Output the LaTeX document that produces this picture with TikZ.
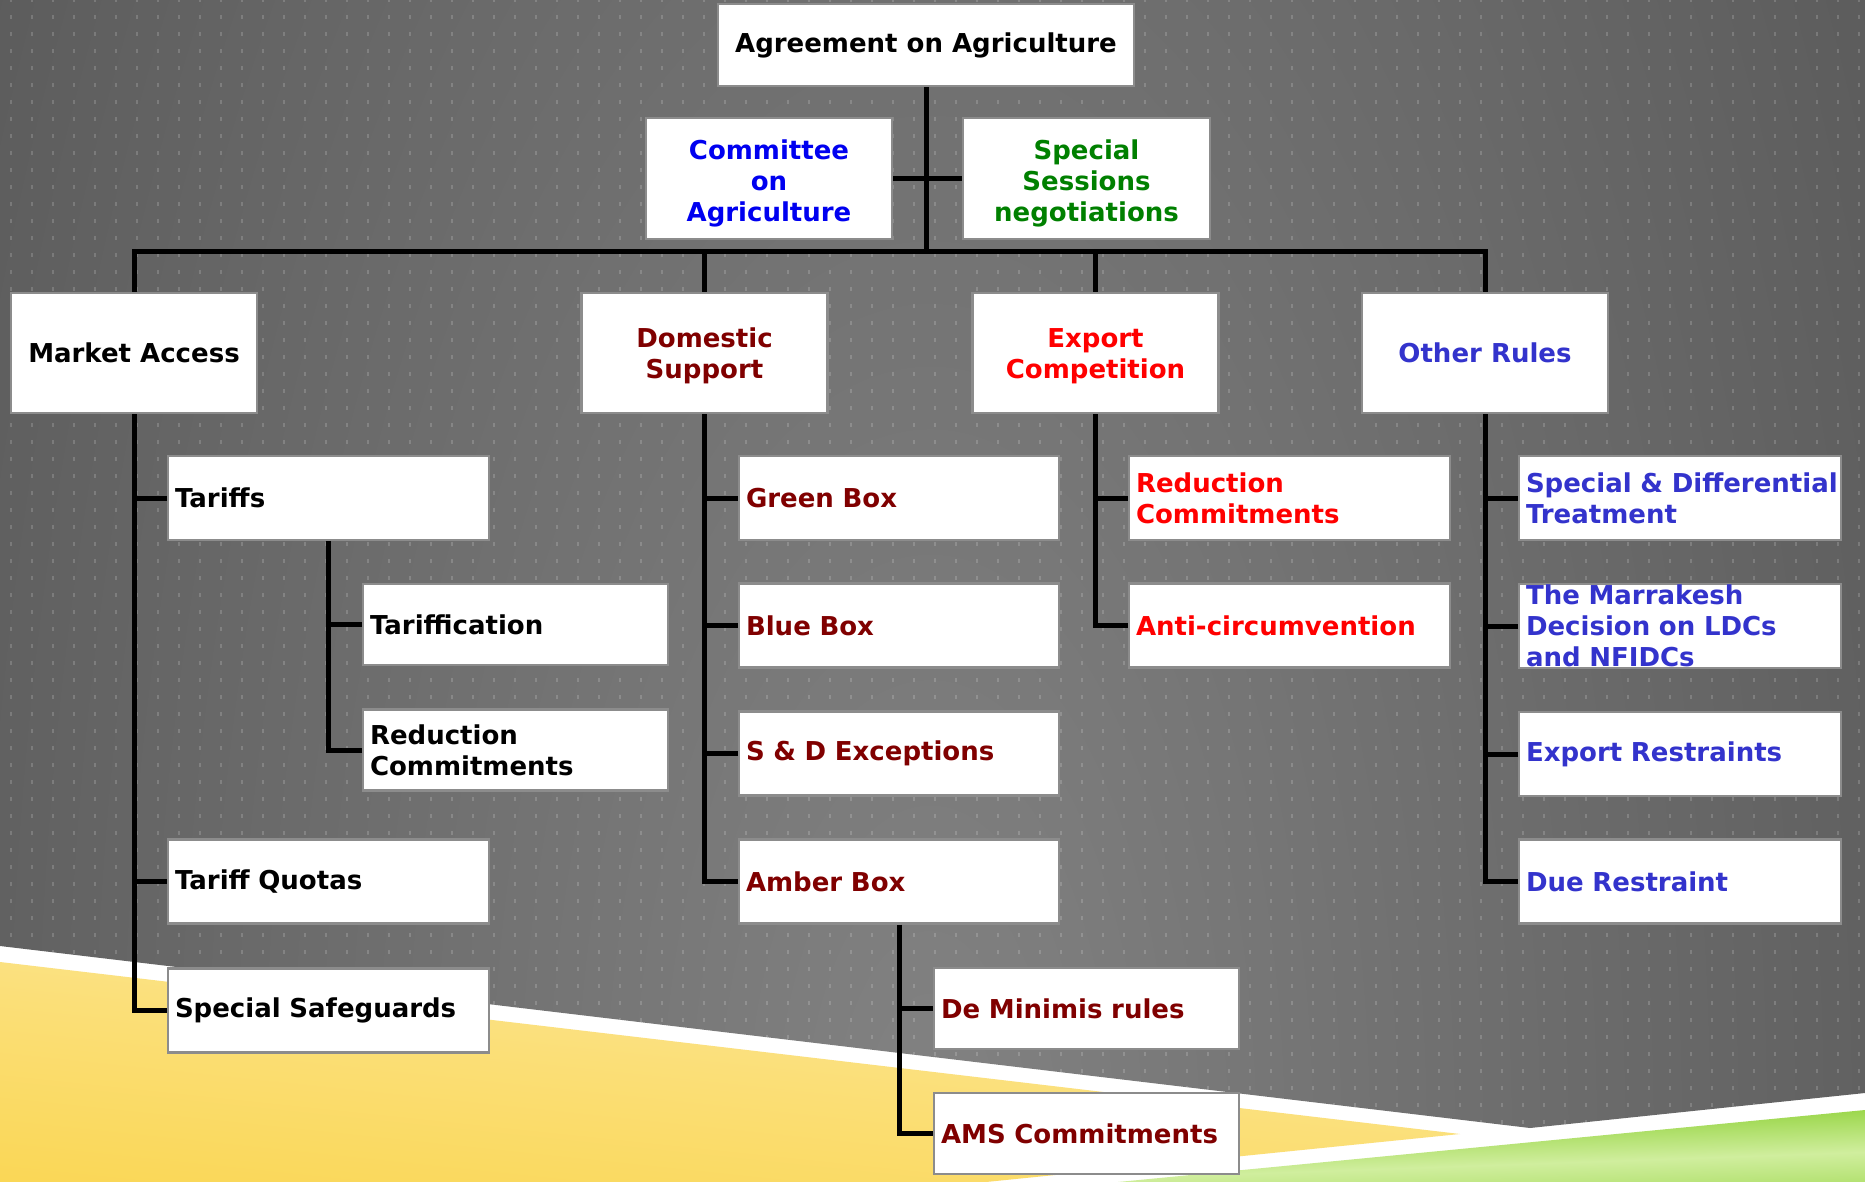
\documentclass[tikz,border=0pt]{standalone}
\usepackage{fontspec}
\setmainfont{DejaVu Sans}
\usetikzlibrary{patterns}
\definecolor{bgc}{HTML}{828282}
\definecolor{bge}{HTML}{3F3F3F}
\definecolor{yA}{HTML}{F9D03A}
\definecolor{yB}{HTML}{FBDF78}
\definecolor{yC}{HTML}{FDE9A2}
\definecolor{gA}{HTML}{7CC620}
\definecolor{gB}{HTML}{D0EE9E}
\definecolor{gC}{HTML}{8ACF30}
\definecolor{boxborder}{HTML}{8C8C8C}
\definecolor{cblue}{HTML}{0000F0}
\definecolor{cgreen}{HTML}{008000}
\definecolor{cdred}{HTML}{800000}
\definecolor{cred}{HTML}{FF0000}
\definecolor{cpurp}{HTML}{3333CC}
\newcommand{\dnA}{\rule{0pt}{30pt}}
\newcommand{\dnB}{\rule{0pt}{25pt}}
\pgfdeclarepatternformonly{bgdots}{\pgfqpoint{-1pt}{-1pt}}{\pgfqpoint{22pt}{18pt}}{\pgfqpoint{21pt}{17pt}}{\pgfpathrectangle{\pgfqpoint{9.5pt}{7pt}}{\pgfqpoint{2pt}{3.5pt}}\pgfusepath{fill}}
\pgfdeclareradialshading{bgrad}{\pgfpoint{0bp}{0bp}}{color(0bp)=(bgc); color(50bp)=(bge); color(75bp)=(bge)}
\pgfdeclareverticalshading{yelsh}{100bp}{color(0bp)=(yA); color(50bp)=(yB); color(76bp)=(yC); color(92bp)=(yA); color(100bp)=(yA)}
\pgfdeclareverticalshading{grnsh}{100bp}{color(0bp)=(gC); color(40bp)=(gB); color(70bp)=(gC); color(100bp)=(gA)}
\begin{document}
\begin{tikzpicture}[x=1pt,y=-1pt,
  box/.style={draw=boxborder, line width=2.5pt, fill=white, inner ysep=0pt, inner xsep=7pt,
    font=\fontsize{26pt}{31pt}\selectfont\bfseries},
  headbox/.style={box, align=center, minimum width=246pt, minimum height=120pt},
  leafA/.style={box, align=left, minimum width=321pt, text width=307pt, minimum height=84pt},
  leafB/.style={box, align=left, minimum width=305pt, text width=291pt, minimum height=81pt},
  conn/.style={line width=5pt, black, line join=miter}]
\useasboundingbox (0,0) rectangle (1865,1182);
% background
\fill[white] (0,0) rectangle (1865,1182);
\begin{scope}
  \clip (0,0) -- (1865,0) -- (1865,1093) -- (1530,1128) -- (0,946) -- cycle;
  \shade[shading=bgrad] (-20,-950) rectangle (1880,3250);
  \fill[pattern=bgdots, pattern color=white, fill opacity=0.17] (0,0) rectangle (1865,1182);
\end{scope}
\shade[shading=yelsh, shading angle=-6] (0,962) -- (1460,1134) -- (986,1182) -- (0,1182) -- cycle;
\shade[shading=grnsh, shading angle=2] (1118,1182) -- (1865,1110) -- (1865,1182) -- cycle;

% top
\node[box, minimum width=416pt, minimum height=82pt, align=center] (agree) at (926,45) {Agreement on Agriculture};
\node[box, text=cblue, align=center, minimum width=246pt, minimum height=121pt] (comm) at (769,178.5) {\dnA Committee\\on\\Agriculture};
\node[box, text=cgreen, align=center, minimum width=247pt, minimum height=121pt] (sess) at (1086.5,178.5) {\dnA Special\\Sessions\\negotiations};

% level 1
\node[headbox, text=black] (ma) at (134,353) {Market Access};
\node[headbox, text=cdred] (ds) at (704.5,353) {\dnB Domestic\\Support};
\node[headbox, text=cred] (ec) at (1095.5,353) {\dnB Export\\Competition};
\node[headbox, text=cpurp] (or) at (1485,353) {Other Rules};

% market access
\node[leafA, text=black] (tariffs) at (328.5,498) {Tariffs};
\node[leafB, text=black] (tfc) at (515.5,624.5) {Tariffication};
\node[leafB, text=black] (rc1) at (515.5,750) {Reduction\\Commitments};
\node[leafA, text=black] (tq) at (328.5,881.5) {Tariff Quotas};
\node[leafA, text=black] (ss) at (328.5,1010.5) {Special Safeguards};

% domestic support
\node[leafA, text=cdred, minimum width=320pt, text width=306pt] (green) at (899,498) {Green Box};
\node[leafA, text=cdred, minimum width=320pt, text width=306pt] (blue) at (899,625.5) {Blue Box};
\node[leafA, text=cdred, minimum width=320pt, text width=306pt] (sd) at (899,753.5) {S \& D Exceptions};
\node[leafA, text=cdred, minimum width=320pt, text width=306pt] (amber) at (899,881.5) {Amber Box};
\node[leafB, text=cdred] (demin) at (1086.5,1008.5) {De Minimis rules};
\node[leafB, text=cdred] (ams) at (1086.5,1133.5) {AMS Commitments};

% export competition
\node[leafA, text=cred] (rc2) at (1289.5,498) {Reduction\\Commitments};
\node[leafA, text=cred] (anti) at (1289.5,625.5) {Anti-circumvention};

% other rules
\node[leafA, text=cpurp, minimum width=322pt, text width=308pt] (sdt) at (1680,498) {\mbox{Special \& Differential}\\Treatment};
\node[leafA, text=cpurp, minimum width=322pt, text width=308pt] (mar) at (1680,626) {The Marrakesh\\\mbox{Decision on LDCs}\\and NFIDCs};
\node[leafA, text=cpurp, minimum width=322pt, text width=308pt] (er) at (1680,754) {Export Restraints};
\node[leafA, text=cpurp, minimum width=322pt, text width=308pt] (due) at (1680,881.5) {Due Restraint};

% connectors
\coordinate (bar) at (926,252);
\draw[conn] (agree.south) -- (bar);
\draw[conn] (comm.east) -- (sess.west);
\draw[conn] (ma.north) |- (bar) -| (or.north);
\draw[conn] (ds.north) -- (ds.north |- bar);
\draw[conn] (ec.north) -- (ec.north |- bar);

\draw[conn] (ma.south) |- (ss.west);
\draw[conn] (ma.south) |- (tariffs.west);
\draw[conn] (ma.south) |- (tq.west);
\draw[conn] (tariffs.south) |- (rc1.west);
\draw[conn] (tariffs.south) |- (tfc.west);

\draw[conn] (ds.south) |- (amber.west);
\draw[conn] (ds.south) |- (green.west);
\draw[conn] (ds.south) |- (blue.west);
\draw[conn] (ds.south) |- (sd.west);
\draw[conn] (amber.south) |- (ams.west);
\draw[conn] (amber.south) |- (demin.west);

\draw[conn] (ec.south) |- (anti.west);
\draw[conn] (ec.south) |- (rc2.west);

\draw[conn] (or.south) |- (due.west);
\draw[conn] (or.south) |- (sdt.west);
\draw[conn] (or.south) |- (mar.west);
\draw[conn] (or.south) |- (er.west);
\end{tikzpicture}
\end{document}
